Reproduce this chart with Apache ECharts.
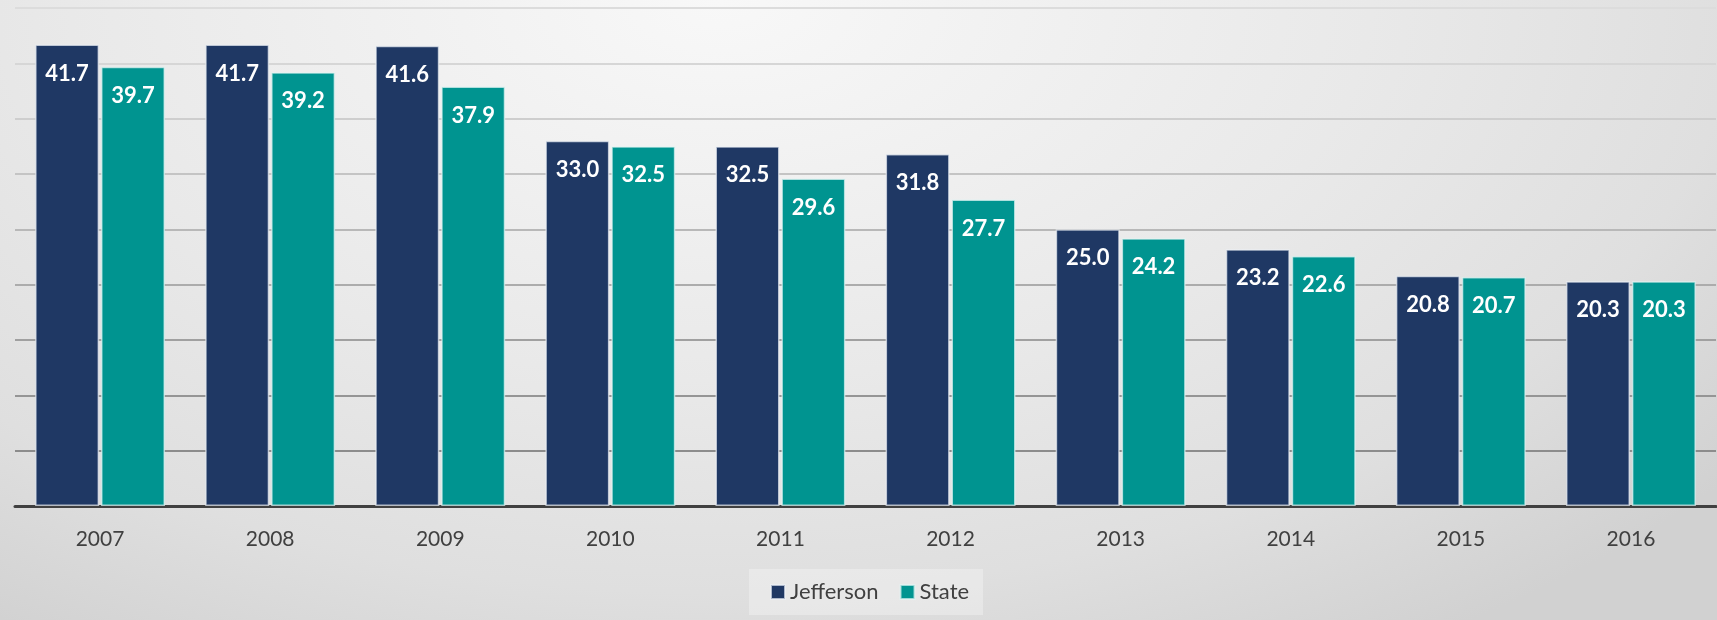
<!DOCTYPE html>
<html>
<head>
<meta charset="utf-8">
<title>Jefferson vs State</title>
<script src="https://cdn.jsdelivr.net/npm/echarts@6/dist/echarts.min.js"></script>
<style>
    html, body {
        margin: 0;
        padding: 0;
    }
    #main {
        width: 1717px;
        height: 620px;
        background: radial-gradient(ellipse 1300px 760px at 720px 0px, #f8f8f8 0%, #e9e9e9 50%, #dfdfdf 78%, #d1d1d1 100%);
    }
</style>
</head>
<body>
<div id="main"></div>
<script>
    // Years on the x axis
    let years = ['2007', '2008', '2009', '2010', '2011', '2012', '2013', '2014', '2015', '2016'];
    // Rates
    let jeffersonData = [41.7, 41.7, 41.6, 33.0, 32.5, 31.8, 25.0, 23.2, 20.8, 20.3];
    let stateData = [39.7, 39.2, 37.9, 32.5, 29.6, 27.7, 24.2, 22.6, 20.7, 20.3];
    let seriesNames = ['Jefferson', 'State'];

    // gridlines fade out toward the top (one colour per tick, from 0 up to 45)
    let gridColors = ['#404040', '#8c8c8c', '#959595', '#a0a0a0', '#acacac', '#b8b8b8', '#c4c4c4', '#cecece', '#d6d6d6', '#dcdcdc'];

    let labelStyle = {
        show: true,
        position: 'insideTop',
        distance: 18,
        color: '#ffffff',
        fontFamily: 'Lato',
        fontWeight: 'bold',
        fontSize: 22,
        formatter: function (p) {
            return p.value.toFixed(1);
        }
    };

    let myChart = echarts.init(document.getElementById('main'), null, {renderer: 'canvas'});
    myChart.setOption({
        backgroundColor: 'transparent',
        animation: false,
        grid: {
            left: 15,
            right: 1,
            top: 8,
            bottom: 114
        },
        legend: {
            data: seriesNames,
            left: 749,
            top: 569,
            padding: [12, 14, 12, 21],
            itemWidth: 14,
            itemHeight: 14,
            itemGap: 21,
            icon: 'rect',
            backgroundColor: 'rgba(255,255,255,0.3)',
            textStyle: {
                color: '#404040',
                fontFamily: 'Lato',
                fontSize: 22
            }
        },
        xAxis: {
            type: 'category',
            data: years,
            axisTick: {show: false},
            axisLine: {
                lineStyle: {color: '#404040', width: 3}
            },
            axisLabel: {
                color: '#404040',
                fontFamily: 'Lato',
                fontSize: 21,
                margin: 23
            }
        },
        yAxis: {
            type: 'value',
            min: 0,
            max: 45,
            interval: 5,
            axisLabel: {show: false},
            axisLine: {show: false},
            axisTick: {show: false},
            splitLine: {
                lineStyle: {color: gridColors, width: 2}
            }
        },
        series: [{
            name: seriesNames[0],
            type: 'bar',
            data: jeffersonData,
            barWidth: 64,
            barGap: '3%',
            itemStyle: {
                color: '#1f3864',
                borderColor: 'rgba(235,240,245,0.7)',
                borderWidth: 1.5
            },
            label: labelStyle
        }, {
            name: seriesNames[1],
            type: 'bar',
            data: stateData,
            barWidth: 64,
            barGap: '3%',
            itemStyle: {
                color: '#009490',
                borderColor: 'rgba(225,245,244,0.7)',
                borderWidth: 1.5
            },
            label: labelStyle
        }]
    });
</script>
</body>
</html>
